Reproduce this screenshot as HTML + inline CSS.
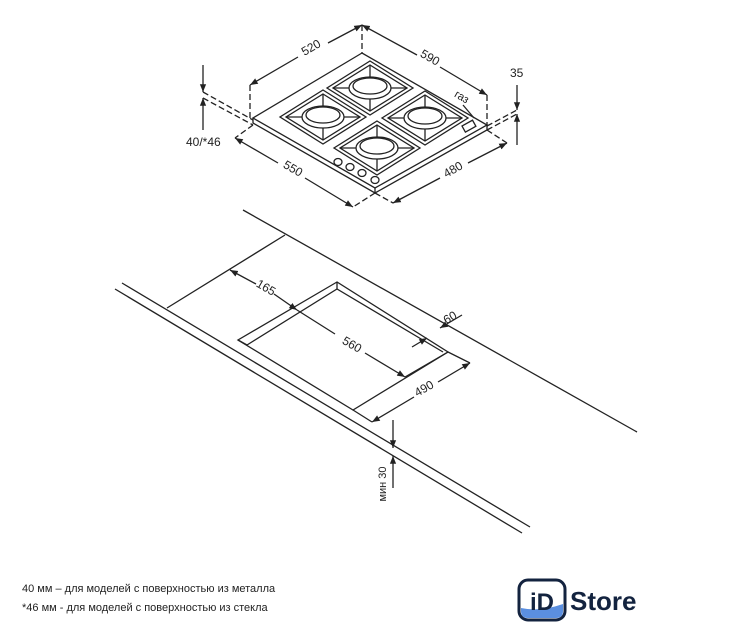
<!DOCTYPE html>
<html><head><meta charset="utf-8"><style>
html,body{margin:0;padding:0;background:#fff;width:734px;height:640px;overflow:hidden}
svg{display:block}
text{font-family:"Liberation Sans",sans-serif;fill:#222}
</style></head><body>
<svg width="734" height="640" viewBox="0 0 734 640" xmlns="http://www.w3.org/2000/svg">
<defs>
<marker id="a" viewBox="0 0 10 10" refX="10" refY="5" markerWidth="6" markerHeight="6" orient="auto-start-reverse"><path d="M0,1 L10,5 L0,9 z" fill="#222"/></marker>
<g id="b" stroke="#222" stroke-width="1.3" fill="none">
<polygon points="0,-27 43,0 0,27 -43,0"/>
<polygon points="0,-23 37,0 0,23 -37,0"/>
<line x1="0" y1="-23" x2="0" y2="23"/><line x1="-37" y1="0" x2="37" y2="0"/>
<ellipse cx="0" cy="0" rx="21" ry="11" fill="#fff"/>
<ellipse cx="0" cy="-2" rx="17" ry="8" fill="#fff"/>
</g>
</defs>
<g stroke="#222" stroke-width="1.3" fill="none">
<!-- HOB -->
<polygon points="362,53 253,118 375,188 487,125"/>
<polyline points="253,118 253,123 375,193 487,130 487,125"/>
<line x1="375" y1="188" x2="375" y2="193"/>
<g stroke-dasharray="6,3">
<line x1="250" y1="85" x2="250" y2="118"/>
<line x1="362" y1="25" x2="362" y2="53"/>
<line x1="487" y1="95" x2="487" y2="125"/>
<line x1="203" y1="92" x2="253" y2="120"/>
<line x1="203" y1="98" x2="253" y2="125"/>
<line x1="487" y1="126" x2="517" y2="110"/>
<line x1="487" y1="130" x2="517" y2="114"/>
<line x1="253" y1="125" x2="235" y2="138"/>
<line x1="375" y1="193" x2="353" y2="207"/>
<line x1="375" y1="193" x2="393" y2="203"/>
<line x1="487" y1="130" x2="507" y2="143"/>
</g>
<line x1="250" y1="85" x2="298" y2="57" marker-start="url(#a)"/>
<line x1="328" y1="43" x2="362" y2="25" marker-end="url(#a)"/>
<line x1="362" y1="25" x2="417" y2="55" marker-start="url(#a)"/>
<line x1="440" y1="67" x2="487" y2="95" marker-end="url(#a)"/>
<line x1="235" y1="138" x2="278" y2="163" marker-start="url(#a)"/>
<line x1="305" y1="178" x2="353" y2="207" marker-end="url(#a)"/>
<line x1="393" y1="203" x2="440" y2="178" marker-start="url(#a)"/>
<line x1="468" y1="163" x2="507" y2="143" marker-end="url(#a)"/>
<line x1="203" y1="65" x2="203" y2="92" marker-end="url(#a)"/>
<line x1="203" y1="130" x2="203" y2="98" marker-end="url(#a)"/>
<line x1="517" y1="85" x2="517" y2="110" marker-end="url(#a)"/>
<line x1="517" y1="145" x2="517" y2="114" marker-end="url(#a)"/>
<line x1="463" y1="105" x2="474" y2="118"/>
<rect x="0" y="0" width="12" height="7" transform="translate(462,126) rotate(-29)"/>
</g>
<use href="#b" x="370" y="88"/>
<use href="#b" x="323" y="117"/>
<use href="#b" x="425" y="118"/>
<use href="#b" x="377" y="148"/>
<g stroke="#222" stroke-width="1.3" fill="#fff">
<ellipse cx="338" cy="162" rx="4" ry="3.5"/><ellipse cx="350" cy="167" rx="4" ry="3.5"/>
<ellipse cx="362" cy="173" rx="4" ry="3.5"/><ellipse cx="375" cy="180" rx="4" ry="3.5"/>
</g>
<g stroke="#222" stroke-width="1.3" fill="none">
<!-- COUNTER -->
<line x1="243" y1="210" x2="637" y2="432"/>
<line x1="122" y1="283" x2="530" y2="527"/>
<line x1="115" y1="289" x2="522" y2="533"/>
<line x1="285" y1="235" x2="167" y2="308"/>
<polygon points="337,282 238,340 353,410 448,352"/>
<polyline points="247,345 337,289 443,352"/>
<line x1="238" y1="340" x2="247" y2="345"/>
<line x1="337" y1="282" x2="337" y2="289"/>
<line x1="230" y1="270" x2="256" y2="284" marker-start="url(#a)"/>
<line x1="274" y1="294" x2="297" y2="310" marker-end="url(#a)"/>
<line x1="297" y1="310" x2="335" y2="334"/>
<line x1="365" y1="353" x2="405" y2="377" marker-end="url(#a)"/>
<line x1="405" y1="377" x2="448" y2="352"/>
<line x1="353" y1="410" x2="372" y2="422"/>
<line x1="448" y1="352" x2="470" y2="363"/>
<line x1="372" y1="422" x2="414" y2="397" marker-start="url(#a)"/>
<line x1="438" y1="382" x2="470" y2="363" marker-end="url(#a)"/>
<line x1="412" y1="347" x2="427" y2="338" marker-end="url(#a)"/>
<line x1="462" y1="315" x2="440" y2="328" marker-end="url(#a)"/>
<line x1="393" y1="420" x2="393" y2="448" marker-end="url(#a)"/>
<line x1="393" y1="488" x2="393" y2="456" marker-end="url(#a)"/>
</g>
<g font-size="12">
<text x="313" y="51" transform="rotate(-30 313 51)" text-anchor="middle">520</text>
<text x="428" y="61" transform="rotate(30 428 61)" text-anchor="middle">590</text>
<text x="291" y="172" transform="rotate(30 291 172)" text-anchor="middle">550</text>
<text x="455" y="173" transform="rotate(-30 455 173)" text-anchor="middle">480</text>
<text x="460" y="100" transform="rotate(30 460 100)" text-anchor="middle" font-size="11">газ</text>
<text x="510" y="77">35</text>
<text x="186" y="146">40/*46</text>
<text x="264" y="291" transform="rotate(30 264 291)" text-anchor="middle">165</text>
<text x="350" y="348" transform="rotate(30 350 348)" text-anchor="middle">560</text>
<text x="426" y="392" transform="rotate(-30 426 392)" text-anchor="middle">490</text>
<text x="452" y="321" transform="rotate(-30 452 321)" text-anchor="middle">60</text>
<text x="386" y="484" transform="rotate(-90 386 484)" text-anchor="middle" font-size="11">мин 30</text>
<text x="22" y="592" font-size="11">40 мм – для моделей с поверхностью  из металла</text>
<text x="22" y="611" font-size="11">*46 мм - для моделей с поверхностью  из стекла</text>
</g>
<rect x="519" y="580" width="46" height="40" rx="9" fill="#fff" stroke="#13233f" stroke-width="3"/>
<path d="M521,608 Q540,612 563,604 L563,611 Q563,618 556,618 L528,618 Q521,618 521,611 z" fill="#5b8fe0"/>
<text x="542" y="610" text-anchor="middle" font-size="24" font-weight="bold" style="fill:#13233f">iD</text>
<text x="570" y="610" font-size="26" font-weight="bold" style="fill:#13233f">Store</text>
</svg>
</body></html>
